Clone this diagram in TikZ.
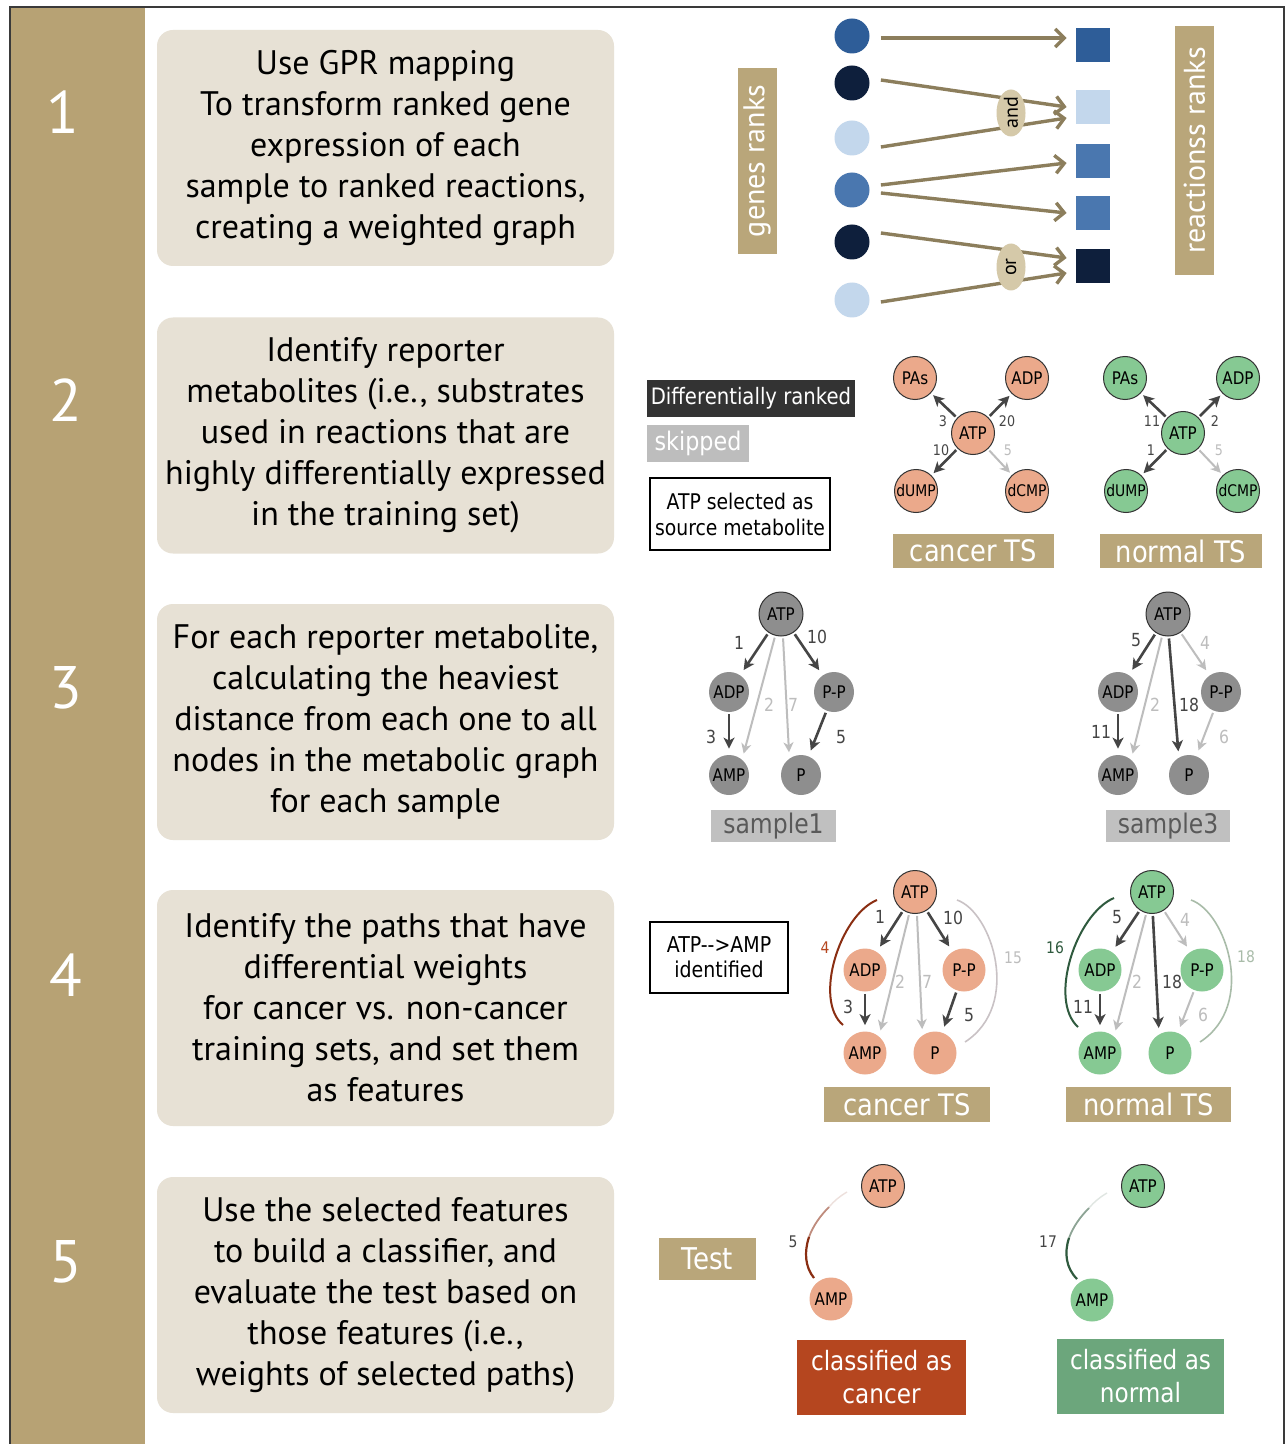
\documentclass[tikz,border=0pt]{standalone}
\usepackage{fontspec}
\setmainfont{PT Sans}
\newfontfamily\dfont[FakeStretch=0.87]{DejaVu Sans}
\usetikzlibrary{arrows.meta,shapes.geometric,calc}

\definecolor{bandbrown}{HTML}{B7A274}
\definecolor{tagbrown}{HTML}{B9A67A}
\definecolor{stepbg}{HTML}{E7E1D5}
\definecolor{framegray}{HTML}{3A3A3A}
\definecolor{gnavy}{HTML}{0E1F3C}
\definecolor{gblue}{HTML}{2E5D98}
\definecolor{gmid}{HTML}{4A77AF}
\definecolor{glight}{HTML}{C3D7EC}
\definecolor{gprtan}{HTML}{8C7E5C}
\definecolor{gateoval}{HTML}{D5C9A9}
\definecolor{salmon}{HTML}{EBA98B}
\definecolor{mint}{HTML}{86C993}
\definecolor{nodegray}{HTML}{8E8E8E}
\definecolor{edgedark}{HTML}{454545}
\definecolor{edgelight}{HTML}{BDBDBD}
\definecolor{boxgray}{HTML}{C0C0C0}
\definecolor{legdark}{HTML}{333333}
\definecolor{rust}{HTML}{B5461F}
\definecolor{leaf}{HTML}{6CA67C}
\definecolor{arcred}{HTML}{8A2E12}
\definecolor{arcgreen}{HTML}{2F5A3E}
\definecolor{arcpale}{HTML}{A9BCA9}
\definecolor{arcgray}{HTML}{C9C2C5}

\begin{document}
\begin{tikzpicture}[x=0.5pt,y=-0.5pt,
  stepbox/.style={fill=stepbg, rounded corners=8pt, minimum width=228.5pt, minimum height=118pt,
    align=center, text=black, font=\fontsize{17}{20.5}\selectfont},
  stepnum/.style={text=white, font=\fontsize{30}{30}\selectfont},
  tag/.style={fill=tagbrown, text=white, inner sep=0pt, font=\dfont\fontsize{14.8}{15}\selectfont},
  vtag/.style={fill=tagbrown, text=white, inner sep=0pt, rotate=90, minimum height=19.5pt,
    font=\fontsize{15}{15}\selectfont},
  gene/.style={circle, inner sep=0pt, minimum size=17.5pt},
  rxn/.style={rectangle, inner sep=0pt, minimum width=17pt, minimum height=17pt},
  gpr/.style={draw=gprtan, line width=1.7pt, -{Straight Barb[length=4.5pt,width=9pt]}},
  gate/.style={ellipse, fill=gateoval, inner sep=0pt, minimum width=23.5pt, minimum height=14.5pt,
    rotate=90, font=\fontsize{10}{10}\selectfont, text=black},
  met/.style={circle, inner sep=0pt, minimum size=21.5pt, font=\dfont\fontsize{8.7}{9}\selectfont, text=black},
  rim/.style={draw=black!80, line width=0.5pt},
  dk/.style={draw=edgedark, line width=1.3pt, -{Stealth[length=5.5pt,width=5.5pt,inset=1.5pt]},
    shorten >=3pt, shorten <=1pt},
  lt/.style={draw=edgelight, line width=1pt, -{Stealth[length=5pt,width=5pt,inset=1.5pt]},
    shorten >=3pt, shorten <=1pt},
  wt/.style={inner sep=0pt, font=\dfont\fontsize{9}{9}\selectfont, text=edgedark},
  wtl/.style={wt, text=edgelight},
  swt/.style={inner sep=0pt, font=\dfont\fontsize{7.3}{8}\selectfont, text=edgedark},
  swtl/.style={swt, text=edgelight},
]
\useasboundingbox (0,0) rectangle (1288,1444);
\fill[white] (0,0) rectangle (1288,1444);

% side band and frame
\fill[bandbrown] (10,7) rectangle (145,1444);
\draw[framegray, line width=0.6pt] (10,1444) -- (10,7) -- (1284,7) -- (1284,1444);

% step numbers
\node[stepnum] (n1) at (63,112) {1};
\node[stepnum] (n2) at (66,400) {2};
\node[stepnum] (n3) at (66,688) {3};
\node[stepnum] (n4) at (66,975) {4};
\node[stepnum] (n5) at (66,1262) {5};

% step descriptions
\node[stepbox] (s1) at (385.5,148) {Use GPR mapping\\To transform ranked gene\\expression of each\\sample to ranked reactions,\\creating a weighted graph};
\node[stepbox] (s2) at (385.5,435.5) {Identify reporter\\metabolites (i.e., substrates\\used in reactions that are\\highly differentially expressed\\in the training set)};
\node[stepbox] (s3) at (385.5,722) {For each reporter metabolite,\\calculating the heaviest\\distance from each one to all\\nodes in the metabolic graph\\for each sample};
\node[stepbox] (s4) at (385.5,1008) {Identify the paths that have\\differential weights\\for cancer vs. non-cancer\\training sets, and set them\\as features};
\node[stepbox] (s5) at (385.5,1295) {Use the selected features\\to build a classifier, and\\evaluate the test based on\\those features (i.e.,\\weights of selected paths)};

% ---------- step 1: GPR mapping ----------
\node[vtag, minimum width=93pt] (genes) at (757,161) {genes ranks};
\node[vtag, minimum width=124.5pt] (rxns) at (1194.5,150.5) {reactionss ranks};

\node[gene, fill=gblue]  (c1) at (852,36) {};
\node[gene, fill=gnavy]  (c2) at (852,83) {};
\node[gene, fill=glight] (c3) at (852,138) {};
\node[gene, fill=gmid]   (c4) at (852,190) {};
\node[gene, fill=gnavy]  (c5) at (852,242) {};
\node[gene, fill=glight] (c6) at (852,300) {};

\node[rxn, fill=gblue]  (r1) at (1093,45) {};
\node[rxn, fill=glight] (r2) at (1093,107.5) {};
\node[rxn, fill=gmid]   (r3) at (1093,161.5) {};
\node[rxn, fill=gmid]   (r4) at (1093,213.5) {};
\node[rxn, fill=gnavy]  (r5) at (1093,266.5) {};

\draw[gpr] ($(c1.east)+(11,2)$)  -- ($(r1.west)+(-9,-7)$);
\draw[gpr] ($(c2.east)+(11,-3)$) -- ($(r2.west)+(-9,-0.5)$);
\draw[gpr] ($(c3.east)+(11,9)$)  -- ($(r2.west)+(-9,10.5)$);
\draw[gpr] ($(c4.east)+(11,-5)$) -- ($(r3.west)+(-9,1.5)$);
\draw[gpr] ($(c4.east)+(11,3)$)  -- ($(r4.west)+(-9,-0.5)$);
\draw[gpr] ($(c5.east)+(11,-9)$) -- ($(r5.west)+(-9,-8.5)$);
\draw[gpr] ($(c6.east)+(11,2)$)  -- ($(r5.west)+(-9,6.5)$);

\node[gate] (gand) at (1011,113) {and};
\node[gate] (gor)  at (1011,267) {or};

% ---------- step 2: reporter metabolites ----------
\node[fill=legdark, text=white, inner sep=0pt, minimum width=104pt, minimum height=18.5pt,
  font=\dfont\fontsize{11.3}{12}\selectfont] (ldiff) at (751,398.5) {Differentially ranked};
\node[fill=edgelight, text=white, inner sep=0pt, minimum width=51pt, minimum height=18.5pt,
  font=\dfont\fontsize{12.8}{13}\selectfont] (lskip) at (698,443.5) {skipped};
\node[draw=black, line width=0.6pt, fill=white, align=center, inner sep=0pt, minimum width=90pt,
  minimum height=36pt, font=\dfont\fontsize{10.8}{13}\selectfont] (lsrc) at (740,514) {ATP selected as\\source metabolite};

% cancer training set
\node[met, rim, fill=salmon] (ca) at (973,433) {ATP};
\node[met, rim, fill=salmon] (cpas) at (915,378) {PAs};
\node[met, rim, fill=salmon] (cadp) at (1027,378) {ADP};
\node[met, rim, fill=salmon, font=\dfont\fontsize{8}{9}\selectfont] (cdump) at (916,491) {dUMP};
\node[met, rim, fill=salmon, font=\dfont\fontsize{8}{9}\selectfont] (cdcmp) at (1027,491) {dCMP};
\draw[dk, shorten >=1.5pt] (ca) -- (cpas);
\draw[dk, shorten >=1.5pt] (ca) -- (cadp);
\draw[dk, shorten >=1.5pt] (ca) -- (cdump);
\draw[lt, shorten >=1.5pt] (ca) -- (cdcmp);
\node[swt]  (cw1) at (943,421) {3};
\node[swt]  (cw2) at (1007,421) {20};
\node[swt]  (cw3) at (941,450) {10};
\node[swtl] (cw4) at (1008,450) {5};
\node[tag, minimum width=80.5pt, minimum height=17pt] (cts2) at (973.5,551) {cancer TS};

% normal training set
\node[met, rim, fill=mint] (na) at (1183,433) {ATP};
\node[met, rim, fill=mint] (npas) at (1125,378) {PAs};
\node[met, rim, fill=mint] (nadp) at (1238,378) {ADP};
\node[met, rim, fill=mint, font=\dfont\fontsize{8}{9}\selectfont] (ndump) at (1126,491) {dUMP};
\node[met, rim, fill=mint, font=\dfont\fontsize{8}{9}\selectfont] (ndcmp) at (1238,491) {dCMP};
\draw[dk, shorten >=1.5pt] (na) -- (npas);
\draw[dk, shorten >=1.5pt] (na) -- (nadp);
\draw[dk, shorten >=1.5pt] (na) -- (ndump);
\draw[lt, shorten >=1.5pt] (na) -- (ndcmp);
\node[swt]  (nw1) at (1152,421) {11};
\node[swt]  (nw2) at (1215,421) {2};
\node[swt]  (nw3) at (1151,450) {1};
\node[swtl] (nw4) at (1219,450) {5};
\node[tag, minimum width=81pt, minimum height=17pt] (nts2) at (1181,551) {normal TS};

% ---------- step 3: heaviest distances per sample ----------
\node[met, rim, fill=nodegray, minimum size=22pt] (a1) at (781,614) {ATP};
\node[met, fill=nodegray, minimum size=20pt] (d1) at (729,692) {ADP};
\node[met, fill=nodegray, minimum size=20pt] (pp1) at (834,692) {P-P};
\node[met, fill=nodegray, minimum size=20pt] (m1) at (729,775) {AMP};
\node[met, fill=nodegray, minimum size=20pt] (p1) at (801,775) {P};
\draw[dk] (a1) -- (d1);
\draw[dk] (a1) -- (pp1);
\draw[lt] (a1.-105) -- (m1.50);
\draw[lt] (a1.-85) -- (p1.125);
\draw[dk] (d1) -- (m1);
\draw[dk] (pp1) -- (p1);
\node[wt]  (w11) at (739,643) {1};
\node[wt]  (w12) at (817,637) {10};
\node[wtl] (w13) at (769,705) {2};
\node[wtl] (w14) at (793,705) {7};
\node[wt]  (w15) at (711,737) {3};
\node[wt]  (w16) at (841,737) {5};
\node[fill=boxgray, text=black!65, inner sep=0pt, minimum width=62.5pt, minimum height=16pt,
  font=\dfont\fontsize{13.5}{14}\selectfont] (smp1) at (773.5,826) {sample1};

\node[met, rim, fill=nodegray, minimum size=22pt] (a3) at (1168,614) {ATP};
\node[met, fill=nodegray, minimum size=20pt] (d3) at (1118,692) {ADP};
\node[met, fill=nodegray, minimum size=20pt] (pp3) at (1221,692) {P-P};
\node[met, fill=nodegray, minimum size=20pt] (m3) at (1118,775) {AMP};
\node[met, fill=nodegray, minimum size=20pt] (p3) at (1189,775) {P};
\draw[dk] (a3) -- (d3);
\draw[lt] (a3) -- (pp3);
\draw[lt] (a3.-105) -- (m3.50);
\draw[dk] (a3.-88) -- (p3.120);
\draw[dk] (d3) -- (m3);
\draw[lt] (pp3) -- (p3);
\node[wt]  (w31) at (1136,640) {5};
\node[wtl] (w32) at (1205,643) {4};
\node[wtl] (w33) at (1155,705) {2};
\node[wt]  (w34) at (1189,705) {18};
\node[wt]  (w35) at (1101,732) {11};
\node[wtl] (w36) at (1224,737) {6};
\node[fill=boxgray, text=black!65, inner sep=0pt, minimum width=62pt, minimum height=16pt,
  font=\dfont\fontsize{13.5}{14}\selectfont] (smp3) at (1168,826) {sample3};

% ---------- step 4: differential paths as features ----------
\node[draw=black, line width=0.6pt, fill=white, align=center, inner sep=0pt, minimum width=69pt,
  minimum height=35.5pt, font=\dfont\fontsize{10.9}{12.5}\selectfont] (lpath) at (719,957.5) {ATP-{}-{}>AMP\\identified};

% cancer training set
\node[met, rim, fill=salmon] (a4c) at (915,892) {ATP};
\node[met, fill=salmon] (d4c) at (865,970) {ADP};
\node[met, fill=salmon] (pp4c) at (964,970) {P-P};
\node[met, fill=salmon] (m4c) at (865,1053) {AMP};
\node[met, fill=salmon] (p4c) at (935,1053) {P};
\draw[dk] (a4c) -- (d4c);
\draw[dk] (a4c) -- (pp4c);
\draw[lt] (a4c.-105) -- (m4c.50);
\draw[lt] (a4c.-85) -- (p4c.125);
\draw[dk] (d4c) -- (m4c);
\draw[dk] (pp4c) -- (p4c);
\coordinate (lc4s) at (877,900);
\coordinate (lc4e) at (843,1025);
\coordinate (rc4s) at (957,900);
\coordinate (rc4e) at (965,1042);
\draw[arcred, line width=1pt] (lc4s) .. controls (840,915) and (813,1000) .. (lc4e);
\draw[arcgray, line width=0.8pt] (rc4s) .. controls (992,912) and (1022,1005) .. (rc4e);
\node[wt]  (w41) at (880,917) {1};
\node[wt]  (w42) at (953,918) {10};
\node[wtl] (w43) at (900,982) {2};
\node[wtl] (w44) at (927,982) {7};
\node[wt]  (w45) at (848,1007) {3};
\node[wt]  (w46) at (969,1015) {5};
\node[wt, text=rust, font=\dfont\fontsize{8}{8}\selectfont] (w47) at (825,948) {4};
\node[wtl, font=\dfont\fontsize{8}{8}\selectfont] (w48) at (1013,958) {15};
\node[tag, minimum width=83pt, minimum height=17.5pt] (cts4) at (907,1104.5) {cancer TS};

% normal training set
\node[met, rim, fill=mint] (a4n) at (1152,892) {ATP};
\node[met, fill=mint] (d4n) at (1100,970) {ADP};
\node[met, fill=mint] (pp4n) at (1202,970) {P-P};
\node[met, fill=mint] (m4n) at (1100,1053) {AMP};
\node[met, fill=mint] (p4n) at (1170,1053) {P};
\draw[dk] (a4n) -- (d4n);
\draw[lt] (a4n) -- (pp4n);
\draw[lt] (a4n.-105) -- (m4n.50);
\draw[dk] (a4n.-88) -- (p4n.120);
\draw[dk] (d4n) -- (m4n);
\draw[lt] (pp4n) -- (p4n);
\coordinate (ln4s) at (1114,898);
\coordinate (ln4e) at (1078,1027);
\coordinate (rn4s) at (1191,900);
\coordinate (rn4e) at (1200,1042);
\draw[arcgreen, line width=1pt] (ln4s) .. controls (1076,914) and (1048,1000) .. (ln4e);
\draw[arcpale, line width=0.8pt] (rn4s) .. controls (1226,912) and (1257,1005) .. (rn4e);
\node[wt]  (w51) at (1117,917) {5};
\node[wtl] (w52) at (1185,920) {4};
\node[wtl] (w53) at (1137,982) {2};
\node[wt]  (w54) at (1172,982) {18};
\node[wt]  (w55) at (1083,1007) {11};
\node[wtl] (w56) at (1203,1015) {6};
\node[wt, text=arcgreen, font=\dfont\fontsize{8}{8}\selectfont] (w57) at (1055,948) {16};
\node[wt, text=arcpale, font=\dfont\fontsize{8}{8}\selectfont] (w58) at (1246,957) {18};
\node[tag, minimum width=82.5pt, minimum height=17.5pt] (nts4) at (1148.5,1104.5) {normal TS};

% ---------- step 5: classification of a test sample ----------
\node[tag, minimum width=48.5pt, minimum height=21pt, font=\dfont\fontsize{15}{15}\selectfont] (test) at (707.5,1259) {Test};

\node[met, rim, fill=salmon] (a5c) at (883,1186) {ATP};
\node[met, fill=salmon] (m5c) at (831,1299) {AMP};
\coordinate (t5c0) at (847,1192);
\coordinate (t5c1) at (829,1207);
\coordinate (t5c2) at (809,1237);
\coordinate (t5c3) at (814,1278);
\draw[arcred!15, line width=0.7pt] (t5c0) .. controls (840,1196) and (834,1201) .. (t5c1);
\draw[arcred!55, line width=0.9pt] (t5c1) .. controls (820,1216) and (813,1226) .. (t5c2);
\draw[arcred, line width=1.1pt] (t5c2) .. controls (804,1252) and (805,1267) .. (t5c3);
\node[swt, font=\dfont\fontsize{8}{8}\selectfont] (w61) at (793,1242) {5};
\node[fill=rust, text=white, align=center, inner sep=0pt, minimum width=84.5pt, minimum height=37.5pt,
  font=\dfont\fontsize{13.3}{16.5}\selectfont] (clc) at (881.5,1377.5) {classified as\\cancer};

\node[met, rim, fill=mint] (a5n) at (1143,1186) {ATP};
\node[met, fill=mint] (m5n) at (1092,1300) {AMP};
\coordinate (t5n0) at (1107,1193);
\coordinate (t5n1) at (1089,1208);
\coordinate (t5n2) at (1069,1238);
\coordinate (t5n3) at (1077,1279);
\draw[arcgreen!15, line width=0.7pt] (t5n0) .. controls (1100,1197) and (1094,1202) .. (t5n1);
\draw[arcgreen!55, line width=0.9pt] (t5n1) .. controls (1080,1217) and (1073,1227) .. (t5n2);
\draw[arcgreen, line width=1.1pt] (t5n2) .. controls (1064,1253) and (1066,1268) .. (t5n3);
\node[swt, font=\dfont\fontsize{8}{8}\selectfont] (w62) at (1048,1242) {17};
\node[fill=leaf, text=white, align=center, inner sep=0pt, minimum width=83.5pt, minimum height=37.5pt,
  font=\dfont\fontsize{13.3}{16.5}\selectfont] (cln) at (1140.5,1376.5) {classified as\\normal};
\end{tikzpicture}
\end{document}
